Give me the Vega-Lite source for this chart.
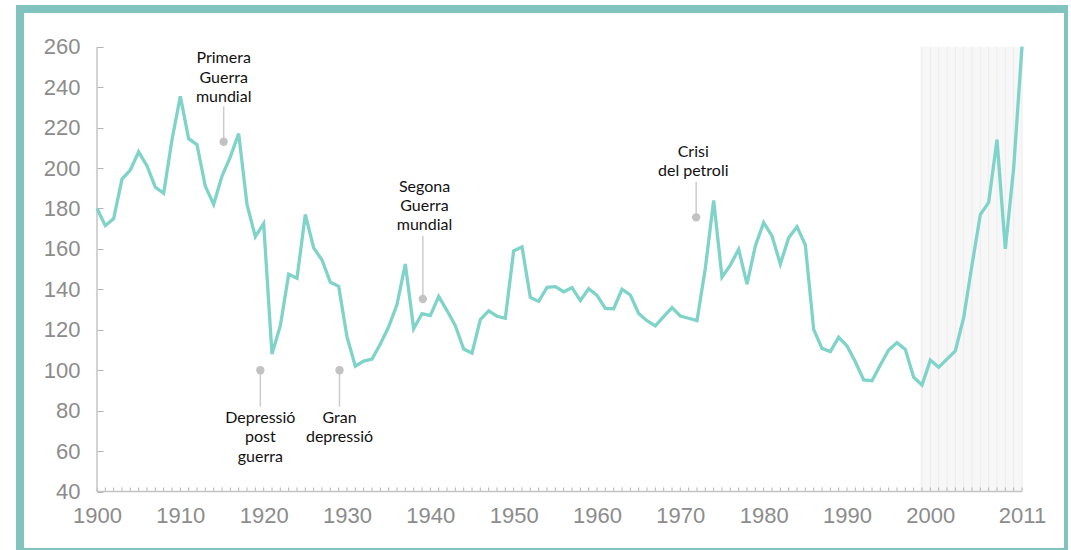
{
  "$schema": "https://vega.github.io/schema/vega-lite/v6.json",
  "width": 1048,
  "height": 543,
  "autosize": "none",
  "padding": {"left": 20, "top": 9, "right": 0, "bottom": 0},
  "background": "white",
  "config": {
    "view": {"stroke": "#80c3bf", "strokeWidth": 8},
    "axis": {"labelFont": "Liberation Sans", "labelColor": "#8c8c8c", "labelFontSize": 22, "tickColor": "#b4b4b4", "grid": false, "domain": false, "title": null, "labelOverlap": false}
  },
  "datasets": {
    "series": [
      {"year": 1900, "value": 180}, {"year": 1901, "value": 171.5}, {"year": 1902, "value": 175}, {"year": 1903, "value": 194.5},
      {"year": 1904, "value": 199}, {"year": 1905, "value": 208}, {"year": 1906, "value": 201}, {"year": 1907, "value": 190.5},
      {"year": 1908, "value": 187.5}, {"year": 1909, "value": 214}, {"year": 1910, "value": 235.5}, {"year": 1911, "value": 214.5},
      {"year": 1912, "value": 211.5}, {"year": 1913, "value": 191}, {"year": 1914, "value": 182}, {"year": 1915, "value": 196},
      {"year": 1916, "value": 205.5}, {"year": 1917, "value": 217}, {"year": 1918, "value": 182}, {"year": 1919, "value": 166},
      {"year": 1920, "value": 172.5}, {"year": 1921, "value": 108}, {"year": 1922, "value": 122}, {"year": 1923, "value": 147.5},
      {"year": 1924, "value": 145.5}, {"year": 1925, "value": 177}, {"year": 1926, "value": 160.5}, {"year": 1927, "value": 154.5},
      {"year": 1928, "value": 143.5}, {"year": 1929, "value": 141.5}, {"year": 1930, "value": 116.5}, {"year": 1931, "value": 102},
      {"year": 1932, "value": 104.5}, {"year": 1933, "value": 105.5}, {"year": 1934, "value": 113}, {"year": 1935, "value": 121.5},
      {"year": 1936, "value": 132.5}, {"year": 1937, "value": 152.5}, {"year": 1938, "value": 120.5}, {"year": 1939, "value": 128},
      {"year": 1940, "value": 127}, {"year": 1941, "value": 136.5}, {"year": 1942, "value": 129.5}, {"year": 1943, "value": 122},
      {"year": 1944, "value": 110.5}, {"year": 1945, "value": 108.5}, {"year": 1946, "value": 125}, {"year": 1947, "value": 129.3},
      {"year": 1948, "value": 126.7}, {"year": 1949, "value": 125.7}, {"year": 1950, "value": 159}, {"year": 1951, "value": 161},
      {"year": 1952, "value": 136}, {"year": 1953, "value": 134}, {"year": 1954, "value": 141}, {"year": 1955, "value": 141.3},
      {"year": 1956, "value": 138.8}, {"year": 1957, "value": 140.8}, {"year": 1958, "value": 134.4}, {"year": 1959, "value": 140.3},
      {"year": 1960, "value": 137}, {"year": 1961, "value": 130.6}, {"year": 1962, "value": 130.4}, {"year": 1963, "value": 140},
      {"year": 1964, "value": 137.2}, {"year": 1965, "value": 128.1}, {"year": 1966, "value": 124.5}, {"year": 1967, "value": 121.9},
      {"year": 1968, "value": 126.5}, {"year": 1969, "value": 131}, {"year": 1970, "value": 126.8}, {"year": 1971, "value": 125.7},
      {"year": 1972, "value": 124.5}, {"year": 1973, "value": 150.4}, {"year": 1974, "value": 184}, {"year": 1975, "value": 146},
      {"year": 1976, "value": 152}, {"year": 1977, "value": 159.8}, {"year": 1978, "value": 142.6}, {"year": 1979, "value": 161.4},
      {"year": 1980, "value": 173}, {"year": 1981, "value": 166.4}, {"year": 1982, "value": 152.5}, {"year": 1983, "value": 165.5},
      {"year": 1984, "value": 171}, {"year": 1985, "value": 161.9}, {"year": 1986, "value": 120.2}, {"year": 1987, "value": 110.8},
      {"year": 1988, "value": 109.2}, {"year": 1989, "value": 116.3}, {"year": 1990, "value": 112}, {"year": 1991, "value": 104.2},
      {"year": 1992, "value": 95.2}, {"year": 1993, "value": 94.8}, {"year": 1994, "value": 102.6}, {"year": 1995, "value": 110},
      {"year": 1996, "value": 113.6}, {"year": 1997, "value": 110.3}, {"year": 1998, "value": 96.5}, {"year": 1999, "value": 92.7},
      {"year": 2000, "value": 105}, {"year": 2001, "value": 101.5}, {"year": 2002, "value": 105.5}, {"year": 2003, "value": 109.5},
      {"year": 2004, "value": 126}, {"year": 2005, "value": 152}, {"year": 2006, "value": 177}, {"year": 2007, "value": 183},
      {"year": 2008, "value": 214}, {"year": 2009, "value": 160}, {"year": 2010, "value": 200}, {"year": 2011, "value": 260}
    ],
    "notes": [
      {"label": "Primera\nGuerra\nmundial", "x": 1915.2, "dot": 213, "end": 230.5, "tx": 1915.2, "ty": 254.3},
      {"label": "Depressió\npost\nguerra", "x": 1919.6, "dot": 100, "end": 82, "tx": 1919.6, "ty": 76.4},
      {"label": "Gran\ndepressió", "x": 1929.1, "dot": 100, "end": 82, "tx": 1929.1, "ty": 76.4},
      {"label": "Segona\nGuerra\nmundial", "x": 1939.1, "dot": 135.2, "end": 166.4, "tx": 1939.3, "ty": 190.8},
      {"label": "Crisi\ndel petroli", "x": 1971.9, "dot": 175.6, "end": 193.2, "tx": 1971.55, "ty": 208.1}
    ]
  },
  "layer": [
    {
      "data": {"values": [{"start": 1998.8, "stop": 2011, "low": 40, "high": 260}]},
      "mark": {"type": "rect", "color": "#f7f7f7"},
      "encoding": {
        "x": {"field": "start", "type": "quantitative", "scale": {"domain": [1890.76, 2016.52], "nice": false, "zero": false},
          "axis": {"orient": "bottom", "offset": -60.5, "values": [1900, 1910, 1920, 1930, 1940, 1950, 1960, 1970, 1980, 1990, 2000, 2011],
            "format": "d", "ticks": false, "tickSize": 0, "labelPadding": 14, "labelOverlap": false, "labelFlush": false}},
        "x2": {"field": "stop"},
        "y": {"field": "low", "type": "quantitative", "scale": {"domain": [10.1, 278.64], "nice": false, "zero": false},
          "axis": {"orient": "left", "offset": -77, "values": [40, 60, 80, 100, 120, 140, 160, 180, 200, 220, 240, 260], "tickSize": -6, "labelPadding": 23}},
        "y2": {"field": "high"}
      }
    },
    {
      "data": {"name": "series"},
      "transform": [{"filter": "datum.year >= 1999"}],
      "mark": {"type": "rule", "color": "#ececec", "strokeWidth": 1},
      "encoding": {"x": {"field": "year", "type": "quantitative"}, "y": {"datum": 40}, "y2": {"datum": 260}}
    },
    {
      "data": {"name": "series"},
      "mark": {"type": "rule", "color": "#b4b4b4", "strokeWidth": 1},
      "encoding": {"x": {"field": "year", "type": "quantitative"}, "y": {"datum": 40}, "y2": {"datum": 42}}
    },
    {
      "data": {"values": [{"a": 1}]},
      "mark": {"type": "rule", "color": "#c4c4c4", "strokeWidth": 1.5},
      "encoding": {"x": {"datum": 1900}, "y": {"datum": 40}, "y2": {"datum": 260}}
    },
    {
      "data": {"values": [{"a": 1}]},
      "mark": {"type": "rule", "color": "#c4c4c4", "strokeWidth": 1.5},
      "encoding": {"x": {"datum": 1900}, "x2": {"datum": 2011}, "y": {"datum": 40}}
    },
    {
      "data": {"name": "series"},
      "mark": {"type": "line", "color": "#7fd3c8", "strokeWidth": 3.3},
      "encoding": {"x": {"field": "year", "type": "quantitative"}, "y": {"field": "value", "type": "quantitative"}}
    },
    {
      "data": {"name": "notes"},
      "mark": {"type": "rule", "color": "#cccccc", "strokeWidth": 1.5},
      "encoding": {"x": {"field": "x", "type": "quantitative"}, "y": {"field": "dot", "type": "quantitative"}, "y2": {"field": "end"}}
    },
    {
      "data": {"name": "notes"},
      "mark": {"type": "point", "filled": true, "color": "#c2c2c2", "opacity": 1, "size": 70},
      "encoding": {"x": {"field": "x", "type": "quantitative"}, "y": {"field": "dot", "type": "quantitative"}}
    },
    {
      "data": {"name": "notes"},
      "mark": {"type": "text", "font": "Lato", "fontSize": 16, "color": "#111111", "lineBreak": "\n", "lineHeight": 19.3, "align": "center", "baseline": "middle"},
      "encoding": {"x": {"field": "tx", "type": "quantitative"}, "y": {"field": "ty", "type": "quantitative"}, "text": {"field": "label"}}
    }
  ]
}
